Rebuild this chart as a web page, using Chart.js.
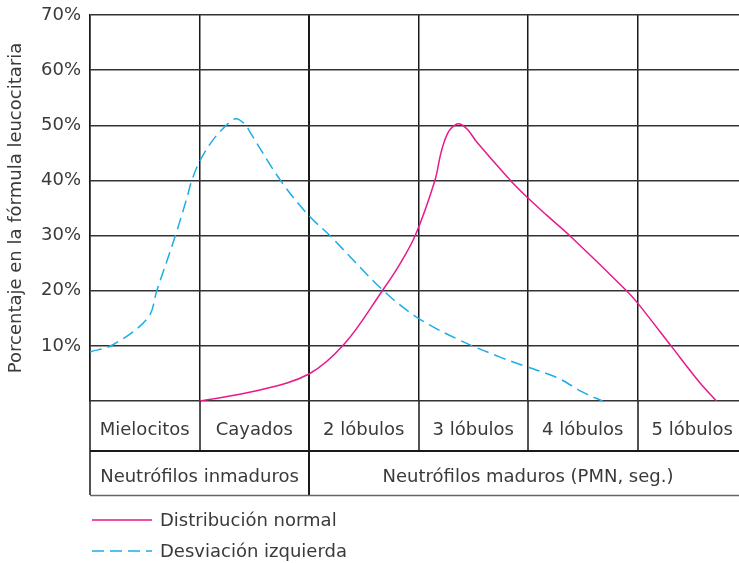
<!DOCTYPE html>
<html>
<head>
<meta charset="utf-8">
<script src="https://cdn.jsdelivr.net/npm/chart.js@4.4.1/dist/chart.umd.min.js"></script>
<style>
html,body{margin:0;padding:0;background:#fff;overflow:hidden;width:739px;height:563px;}
canvas{display:block;}
</style>
</head>
<body>
<canvas id="c" width="760" height="563"></canvas>
<script>
// Categories (columns) and groups
const categories = ["Mielocitos", "Cayados", "2 lóbulos", "3 lóbulos", "4 lóbulos", "5 lóbulos"];
const groups = [
  { label: "Neutrófilos inmaduros", from: 0, to: 2 },
  { label: "Neutrófilos maduros (PMN, seg.)", from: 2, to: 6 }
];
const yTicks = [10, 20, 30, 40, 50, 60, 70];

// Series: position along columns (0..6) and percentage
const normalX = [1.0, 1.51, 2.0, 2.33, 2.67, 2.82, 2.97, 3.15, 3.2, 3.24, 3.29, 3.37, 3.45, 3.53, 3.84, 4.0, 4.17, 4.38, 4.9, 5.0, 5.31, 5.57, 5.72];
const normalY = [0, 1.8, 4.9, 10.5, 20, 24.5, 30, 40, 44.6, 47.3, 49.3, 50.3, 49.2, 47.0, 40, 36.8, 33.7, 30, 20, 17.8, 9.9, 3.3, 0];

const leftX = [0, 0.21, 0.53, 0.61, 0.78, 0.88, 0.93, 1.0, 1.11, 1.22, 1.33, 1.42, 1.46, 1.74, 1.99, 2.19, 2.68, 3.0, 3.38, 3.74, 3.99, 4.27, 4.5, 4.68];
const leftY = [8.9, 10.2, 15.1, 20, 30, 36.5, 40, 43.4, 47, 49.5, 51.2, 50.1, 48.8, 40, 33.8, 30, 20, 15, 11, 8, 6.2, 4.2, 1.6, 0];

const seriesNames = ["Distribución normal", "Desviación izquierda"];
const colors = ["#e8198b", "#1aaee8"];

const FONT = "'DejaVu Sans', sans-serif";
const TEXT = "#3a3a3a";

const toPts = (xs, ys) => xs.map((x, i) => ({ x: x, y: ys[i] }));

const tablePlugin = {
  id: "tablePlugin",
  afterDraw(chart) {
    const ctx = chart.ctx;
    const xs = chart.scales.x;
    const top = chart.chartArea.bottom;
    const row1 = top + 50;
    const row2 = top + 94;
    const left = xs.getPixelForValue(0);
    const right = xs.getPixelForValue(6);
    ctx.save();
    for (let i = 0; i <= 6; i++) {
      const px = Math.round(xs.getPixelForValue(i));
      const full = groups.some(g => g.from === i) || i === 6;
      ctx.beginPath();
      ctx.strokeStyle = "#1a1a1a";
      ctx.lineWidth = (i === 2) ? 2 : 1.5;
      ctx.moveTo(px, top);
      ctx.lineTo(px, full ? row2 : row1);
      ctx.stroke();
    }
    ctx.beginPath();
    ctx.strokeStyle = "#1a1a1a";
    ctx.lineWidth = 2;
    ctx.moveTo(left, row1);
    ctx.lineTo(right, row1);
    ctx.stroke();
    ctx.beginPath();
    ctx.strokeStyle = "#666";
    ctx.lineWidth = 1.5;
    ctx.moveTo(left, row2 + 0.5);
    ctx.lineTo(right, row2 + 0.5);
    ctx.stroke();
    ctx.font = "18px " + FONT;
    ctx.fillStyle = TEXT;
    ctx.textAlign = "center";
    ctx.textBaseline = "alphabetic";
    categories.forEach((c, i) => {
      ctx.fillText(c, xs.getPixelForValue(i + 0.5), top + 34);
    });
    groups.forEach(g => {
      ctx.fillText(g.label, xs.getPixelForValue((g.from + g.to) / 2), top + 81);
    });
    const ly = [top + 119, top + 150];
    chart.data.datasets.forEach((ds, i) => {
      ctx.beginPath();
      ctx.strokeStyle = ds.borderColor;
      ctx.lineWidth = 1.5;
      ctx.setLineDash(ds.borderDash || []);
      ctx.moveTo(left + 2, ly[i]);
      ctx.lineTo(left + 62, ly[i]);
      ctx.stroke();
      ctx.setLineDash([]);
      ctx.textAlign = "left";
      ctx.textBaseline = "middle";
      ctx.fillStyle = TEXT;
      ctx.fillText(ds.label, left + 70, ly[i] + 1);
    });
    ctx.restore();
  }
};

new Chart(document.getElementById("c"), {
  type: "line",
  data: {
    datasets: [
      {
        label: seriesNames[0],
        data: toPts(normalX, normalY),
        borderColor: colors[0],
        borderWidth: 1.5,
        pointRadius: 0,
        tension: 0.35,
        fill: false
      },
      {
        label: seriesNames[1],
        data: toPts(leftX, leftY),
        borderColor: colors[1],
        borderWidth: 1.5,
        borderDash: [12, 6],
        pointRadius: 0,
        tension: 0.35,
        fill: false
      }
    ]
  },
  options: {
    responsive: false,
    animation: false,
    layout: { padding: { top: 15, right: 13, left: 0, bottom: 0 } },
    plugins: { legend: { display: false }, tooltip: { enabled: false } },
    scales: {
      x: {
        type: "linear",
        min: 0,
        max: 6,
        ticks: { display: false, stepSize: 1 },
        grid: {
          color: "#1a1a1a",
          lineWidth: (c) => (c.tick && c.tick.value === 2) ? 2 : 1.5,
          drawTicks: false
        },
        border: { display: false },
        afterFit: (s) => { s.height = 162; s.paddingLeft = 0; s.paddingRight = 0; }
      },
      y: {
        min: 0,
        max: 70,
        afterBuildTicks: (s) => { s.ticks = [0].concat(yTicks).map(v => ({ value: v })); },
        ticks: {
          font: { family: FONT, size: 18 },
          color: TEXT,
          padding: 9,
          callback: (v) => v === 0 ? "" : v + "%"
        },
        grid: { color: "#333", lineWidth: 1.5, drawTicks: false },
        border: { display: true, color: "#1a1a1a", width: 1.5 },
        title: {
          display: true,
          text: "Porcentaje en la fórmula leucocitaria",
          font: { family: FONT, size: 18 },
          color: TEXT,
          padding: { top: 6, bottom: 0 }
        },
        afterFit: (s) => { s.width = 90; s.paddingTop = 0; s.paddingBottom = 0; }
      }
    }
  },
  plugins: [tablePlugin]
});
</script>
</body>
</html>
